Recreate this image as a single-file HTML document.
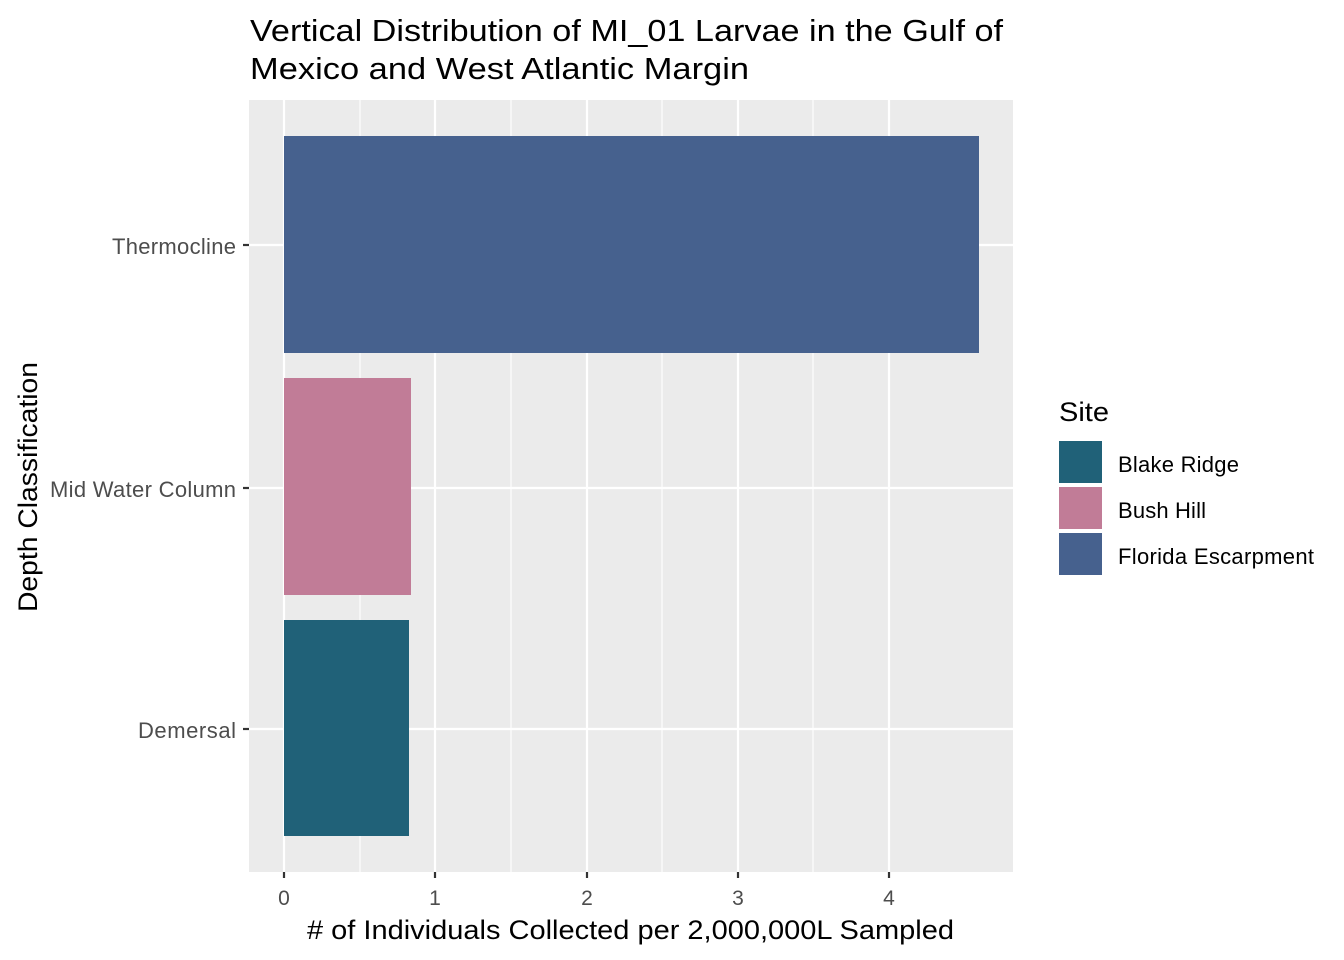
<!DOCTYPE html>
<html><head><meta charset="utf-8"><style>body{margin:0;background:#fff}svg{display:block}</style></head>
<body>
<svg width="1344" height="960" xmlns="http://www.w3.org/2000/svg" font-family="Liberation Sans, Arial, sans-serif">
<rect width="1344" height="960" fill="#fff"/>
<text x="250" y="41" font-size="31" fill="#000" textLength="753" lengthAdjust="spacingAndGlyphs">Vertical Distribution of MI_01 Larvae in the Gulf of</text>
<text x="250" y="79" font-size="31" fill="#000" textLength="499" lengthAdjust="spacingAndGlyphs">Mexico and West Atlantic Margin</text>
<rect x="249" y="100" width="764" height="772" fill="#ebebeb"/>
<g stroke="#fff" stroke-width="1.1">
<line x1="360" y1="100" x2="360" y2="872"/><line x1="511" y1="100" x2="511" y2="872"/><line x1="662" y1="100" x2="662" y2="872"/><line x1="813" y1="100" x2="813" y2="872"/>
</g>
<g stroke="#fff" stroke-width="2.2">
<line x1="284" y1="100" x2="284" y2="872"/><line x1="435" y1="100" x2="435" y2="872"/><line x1="587" y1="100" x2="587" y2="872"/><line x1="738" y1="100" x2="738" y2="872"/><line x1="889" y1="100" x2="889" y2="872"/>
<line x1="249" y1="245" x2="1013" y2="245"/><line x1="249" y1="488" x2="1013" y2="488"/><line x1="249" y1="729" x2="1013" y2="729"/>
</g>
<rect x="284" y="136" width="695" height="217" fill="#46618e"/>
<rect x="284" y="378" width="127" height="217" fill="#c17c97"/>
<rect x="284" y="620" width="125" height="216" fill="#206178"/>
<g stroke="#333" stroke-width="2.2">
<line x1="243" y1="245" x2="249" y2="245"/><line x1="243" y1="488" x2="249" y2="488"/><line x1="243" y1="729" x2="249" y2="729"/>
<line x1="284" y1="872" x2="284" y2="878"/><line x1="435" y1="872" x2="435" y2="878"/><line x1="587" y1="872" x2="587" y2="878"/><line x1="738" y1="872" x2="738" y2="878"/><line x1="889" y1="872" x2="889" y2="878"/>
</g>
<g font-size="22" fill="#4d4d4d" text-anchor="end" lengthAdjust="spacingAndGlyphs">
<text x="236" y="254" textLength="124">Thermocline</text><text x="236" y="497" textLength="186">Mid Water Column</text><text x="236" y="738" textLength="98">Demersal</text>
</g>
<g font-size="21" fill="#4d4d4d" text-anchor="middle">
<text x="284" y="905">0</text><text x="435" y="905">1</text><text x="587" y="905">2</text><text x="738" y="905">3</text><text x="889" y="905">4</text>
</g>
<text x="307" y="939" font-size="27" fill="#000" textLength="647" lengthAdjust="spacingAndGlyphs"># of Individuals Collected per 2,000,000L Sampled</text>
<text transform="translate(37,612) rotate(-90)" font-size="27" fill="#000" textLength="250" lengthAdjust="spacingAndGlyphs">Depth Classification</text>
<text x="1059" y="421" font-size="27" fill="#000" textLength="50" lengthAdjust="spacingAndGlyphs">Site</text>
<rect x="1059" y="441" width="43" height="42" fill="#206178"/>
<rect x="1059" y="487" width="43" height="42" fill="#c17c97"/>
<rect x="1059" y="533" width="43" height="42" fill="#46618e"/>
<g font-size="22" fill="#000" lengthAdjust="spacingAndGlyphs">
<text x="1118" y="472" textLength="121">Blake Ridge</text><text x="1118" y="518" textLength="88">Bush Hill</text><text x="1118" y="564" textLength="196">Florida Escarpment</text>
</g>
</svg>
</body></html>
